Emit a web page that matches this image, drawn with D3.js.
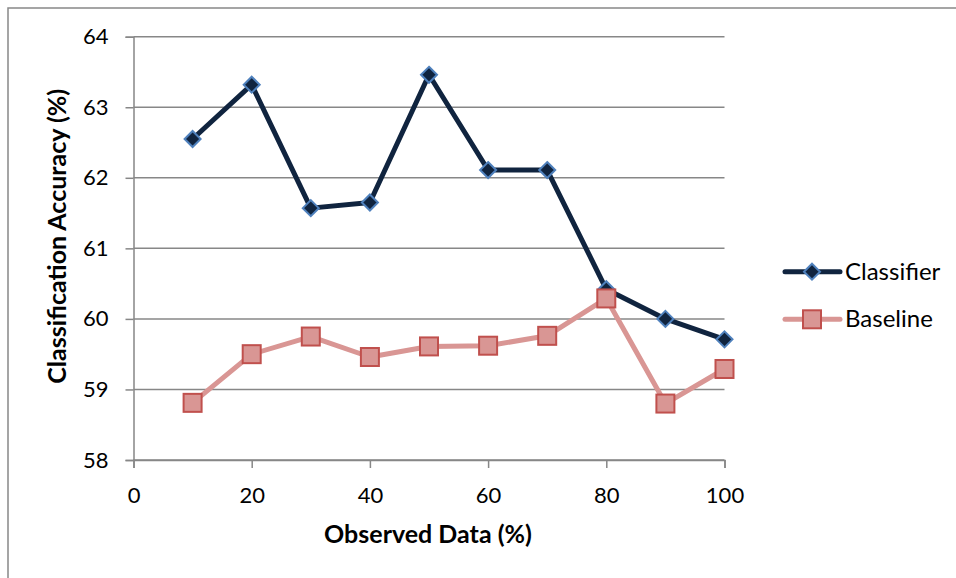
<!DOCTYPE html>
<html><head><meta charset="utf-8">
<script src="https://cdn.jsdelivr.net/npm/d3@7"></script>
<style>body{margin:0;background:#fff}svg{display:block}text{font-family:Lato,"Open Sans",sans-serif}</style>
</head><body>
<svg id="c" width="956" height="578"></svg>
<script>
const xValues = [10,20,30,40,50,60,70,80,90,100];
const classifier = [62.55,63.32,61.57,61.65,63.46,62.11,62.11,60.42,60.0,59.71];
const baseline = [58.81,59.50,59.75,59.46,59.61,59.62,59.76,60.29,58.80,59.29];
const xTicks = [0,20,40,60,80,100];
const yTicks = [58,59,60,61,62,63,64];
const seriesNames = ["Classifier","Baseline"];

const svg = d3.select("#c");
const x = d3.scaleLinear().domain([0,100]).range([133.5,724.5]);
const y = d3.scaleLinear().domain([58,64]).range([460,36.7]);
const gridC = "#878787";

// outer border
svg.append("path").attr("d","M8,578 V8 H956").attr("fill","none").attr("stroke","#888").attr("stroke-width",1.5);

// gridlines
svg.append("g").selectAll("line").data(yTicks).join("line")
  .attr("x1",x(0)).attr("x2",x(100)).attr("y1",d=>y(d)).attr("y2",d=>y(d))
  .attr("stroke",gridC).attr("stroke-width",1.5);

// y axis
const ya = svg.append("g").attr("transform",`translate(${x(0)},0)`)
  .call(d3.axisLeft(y).tickValues(yTicks).tickSize(8).tickPadding(17).tickFormat(d3.format("d")));
ya.select(".domain").attr("stroke",gridC).attr("stroke-width",1.5);
ya.selectAll(".tick line").attr("stroke",gridC).attr("stroke-width",1.5);
ya.selectAll("text").attr("font-size",22).attr("fill","#000").attr("font-family","Lato");

// x axis
const xa = svg.append("g").attr("transform",`translate(0,${y(58)})`)
  .call(d3.axisBottom(x).tickValues(xTicks).tickSize(8).tickPadding(19).tickFormat(d3.format("d")));
xa.select(".domain").attr("stroke",gridC).attr("stroke-width",1.5);
xa.selectAll(".tick line").attr("stroke",gridC).attr("stroke-width",1.5);
xa.selectAll("text").attr("font-size",22).attr("fill","#000").attr("font-family","Lato");

// titles
svg.append("text").attr("x",(x(0)+x(100))/2 - 1).attr("y",543).attr("text-anchor","middle")
  .attr("font-size",25).attr("font-weight","bold").text("Observed Data (%)");
svg.append("text").attr("transform",`translate(66,${(y(58)+y(64))/2 - 12}) rotate(-90)`).attr("text-anchor","middle")
  .attr("font-size",25).attr("font-weight","bold").text("Classification Accuracy (%)");

const line = d3.line().x(d=>x(d[0])).y(d=>y(d[1]));
const cData = xValues.map((v,i)=>[v,classifier[i]]);
const bData = xValues.map((v,i)=>[v,baseline[i]]);

const bLineC = "#D99694", bEdge = "#C0504D";
const cLineC = "#10243F", cEdge = "#4F81BD";

function diamond(g,cx,cy){
  g.append("path").attr("d",`M${cx},${cy-8} L${cx+8},${cy} L${cx},${cy+8} L${cx-8},${cy} Z`)
   .attr("fill",cLineC).attr("stroke",cEdge).attr("stroke-width",2);
}
function square(g,cx,cy){
  g.append("rect").attr("x",cx-9).attr("y",cy-9).attr("width",18).attr("height",18)
   .attr("fill",bLineC).attr("stroke",bEdge).attr("stroke-width",2);
}

// classifier
svg.append("path").datum(cData).attr("d",line).attr("fill","none").attr("stroke",cLineC).attr("stroke-width",5).attr("stroke-linejoin","round");
const cg = svg.append("g");
cData.forEach(d=>diamond(cg,x(d[0]),y(d[1])));
// baseline
svg.append("path").datum(bData).attr("d",line).attr("fill","none").attr("stroke",bLineC).attr("stroke-width",5).attr("stroke-linejoin","round");
const bg = svg.append("g");
bData.forEach(d=>square(bg,x(d[0]),y(d[1])));

// legend
const leg = svg.append("g");
[[seriesNames[0],271.7,cLineC,diamond],[seriesNames[1],319.3,bLineC,square]].forEach(([name,ly,col,mk])=>{
  leg.append("line").attr("x1",785).attr("x2",840).attr("y1",ly).attr("y2",ly).attr("stroke",col).attr("stroke-width",5).attr("stroke-linecap","round");
  mk(leg,812,ly);
  leg.append("text").attr("x",845).attr("y",ly+8).attr("font-size",24).attr("fill","#000").text(name);
});
</script>
</body></html>
